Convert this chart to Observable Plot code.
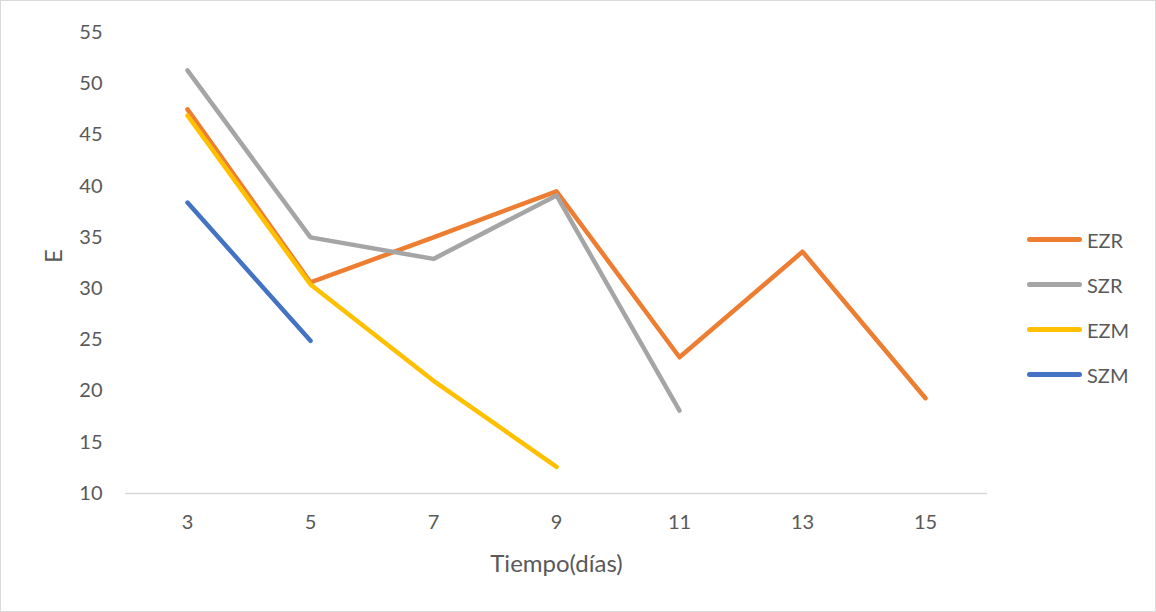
<!DOCTYPE html>
<html>
<head>
<meta charset="utf-8">
<script src="https://cdn.jsdelivr.net/npm/d3@7"></script>
<script src="https://cdn.jsdelivr.net/npm/@observablehq/plot@0.6"></script>
<style>
  body { margin: 0; background: #fff; }
  #wrap { position: relative; width: 1156px; height: 612px; font-family: Lato, "Open Sans", sans-serif; }
  #border { position: absolute; left: 0; top: 0; width: 1156px; height: 612px; box-sizing: border-box; border: 1px solid #d9d9d9; pointer-events: none; }
  #legend { position: absolute; left: 1027px; top: 217px; }
  .item { display: flex; align-items: center; height: 45px; }
  .sw { width: 55px; height: 4.5px; border-radius: 3px; margin-right: 5px; }
  .lab { font-size: 20px; color: #595959; }
</style>
</head>
<body>
<div id="wrap"><div id="chart"></div><div id="legend"></div><div id="border"></div></div>
<script>
const days = ["3", "5", "7", "9", "11", "13", "15"];
const seriesNames = ["EZR", "SZR", "EZM", "SZM"];
const seriesColors = ["#ED7D31", "#A5A5A5", "#FFC000", "#4472C4"];
const EZR = [47.5, 30.6, 35.0, 39.5, 23.3, 33.6, 19.3];
const SZR = [51.3, 35.0, 32.9, 39.1, 18.1];
const EZM = [46.9, 30.4, 21.0, 12.6];
const SZM = [38.4, 24.9];
const yTicks = [10, 15, 20, 25, 30, 35, 40, 45, 50, 55];

const values = { EZR, SZR, EZM, SZM };
const data = [];
seriesNames.forEach(s => values[s].forEach((v, i) => data.push({ series: s, day: days[i], value: v })));

const chart = Plot.plot({
  width: 1156,
  height: 612,
  marginLeft: 125,
  marginRight: 169,
  marginTop: 32,
  marginBottom: 119,
  style: { fontFamily: "Lato, 'Open Sans', sans-serif", fontSize: "20px", color: "#595959", background: "transparent" },
  x: { type: "point", domain: days, padding: 0.5, label: null },
  y: { domain: [10, 55], ticks: yTicks, label: null },
  color: { domain: seriesNames, range: seriesColors },
  marks: [
    Plot.ruleY([10], { stroke: "#d9d9d9", strokeWidth: 1.3 }),
    Plot.axisY({ ticks: yTicks, tickSize: 0, tickPadding: 23, label: null, fill: "#595959", fontSize: 20 }),
    Plot.axisX({ tickSize: 0, tickPadding: 21, label: null, fill: "#595959", fontSize: 20 }),
    Plot.line(data, { x: "day", y: "value", z: "series", stroke: "series", strokeWidth: 4.5, strokeLinecap: "round", strokeLinejoin: "round" }),
    Plot.text(["Tiempo(días)"], { frameAnchor: "bottom", lineAnchor: "middle", dy: 71, fontSize: 24, fill: "#595959" }),
    Plot.text(["E"], { frameAnchor: "left", lineAnchor: "middle", dx: -71, rotate: -90, fontSize: 24, fill: "#595959" })
  ]
});
document.getElementById("chart").appendChild(chart);

const legend = document.getElementById("legend");
seriesNames.forEach((s, i) => {
  const item = document.createElement("div");
  item.className = "item";
  item.innerHTML = `<div class="sw" style="background:${seriesColors[i]}"></div><span class="lab">${s}</span>`;
  legend.appendChild(item);
});
</script>
</body>
</html>
